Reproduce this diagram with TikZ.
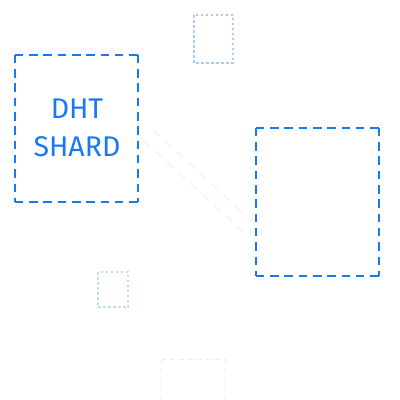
\documentclass[tikz,border=0pt]{standalone}
\usepackage{fontspec}
\setmainfont{Fira Sans}
\definecolor{mainblue}{RGB}{22,122,245}
\definecolor{lightblue}{RGB}{170,202,248}
\definecolor{paleblue}{RGB}{196,218,250}
\definecolor{faintblue}{RGB}{230,238,249}
\definecolor{ghost}{RGB}{240,244,250}
\tikzset{
  shardbox/.style={draw=mainblue, line width=2.2pt, dash pattern=on 8.5pt off 5.8pt, dash phase=0pt},
  smallbox/.style={draw=lightblue, line width=1.2pt, dash pattern=on 2.5pt off 2.5pt},
  tinybox/.style={draw=paleblue, line width=1.2pt, dash pattern=on 2.5pt off 2.5pt},
  faintbox/.style={draw=faintblue, line width=1pt, dash pattern=on 5pt off 4pt},
  ghostline/.style={draw=ghost, line width=1.5pt, dash pattern=on 9pt off 7pt},
  labeltext/.style={text=mainblue, font=\fontsize{28.5}{38}\selectfont, align=center, inner sep=0pt}
}
\begin{document}
\begin{tikzpicture}[x=1pt,y=-1pt]
\useasboundingbox (0,0) rectangle (400,400);
% faint diagonal lines
\coordinate (d1a) at (143,140);
\coordinate (d1b) at (250,238);
\coordinate (d2a) at (153,130);
\coordinate (d2b) at (257,226);
\draw[ghostline] (d1a) -- (d1b);
\draw[ghostline] (d2a) -- (d2b);
% boxes
\draw[smallbox] (194,15) rectangle (233,63);
\node[draw=none, minimum width=123pt, minimum height=147pt, inner sep=0pt] (shard) at (76.5,128.5) {};
\draw[shardbox] (shard.north west) -- (shard.north east);
\draw[shardbox] (shard.north east) -- (shard.south east);
\draw[shardbox] (shard.south west) -- (shard.south east);
\draw[shardbox] (shard.north west) -- (shard.south west);
\node[labeltext] (label) at (77,127.5) {DHT\\SHARD};
\node[draw=none, minimum width=123pt, minimum height=148pt, inner sep=0pt] (peer) at (317.5,202) {};
\draw[shardbox] (peer.north west) -- (peer.north east);
\draw[shardbox] (peer.north east) -- (peer.south east);
\draw[shardbox] (peer.south west) -- (peer.south east);
\draw[shardbox] (peer.north west) -- (peer.south west);
\draw[tinybox] (98,272) rectangle (128,307);
\draw[faintbox] (161,359) -- (161,402);
\draw[faintbox] (161,359) -- (225,359);
\draw[faintbox] (225,359) -- (225,402);
\end{tikzpicture}
\end{document}
